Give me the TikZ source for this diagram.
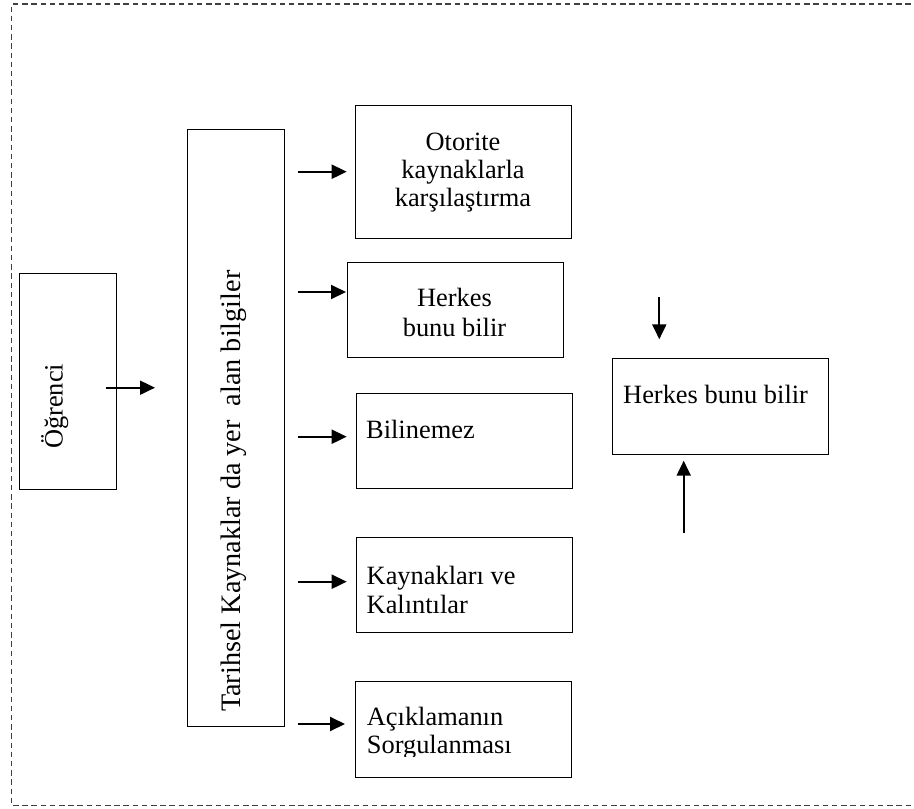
\documentclass[tikz,border=0pt]{standalone}
\usepackage{fontspec}
\setmainfont{Liberation Serif}
\usetikzlibrary{arrows.meta,calc}
\definecolor{framegray}{HTML}{404040}
\begin{document}
\begin{tikzpicture}[x=1pt,y=-1pt,
  box/.style={draw=black, line width=1.1pt, inner sep=0pt, anchor=north west},
  flow/.style={-{Triangle[length=15pt,width=14pt]}, line width=2pt},
  lbl/.style={font=\fontsize{26.4}{28.5}\selectfont, inner sep=0pt},
  mid/.style={lbl, anchor=base},
  left/.style={lbl, anchor=base west},
  vert/.style={lbl, anchor=base west, rotate=90}]
\useasboundingbox (0,0) rectangle (914,809);

% outer dashed frame (its right side lies beyond the page)
\draw[framegray, line width=1.2pt, dash pattern=on 5.5pt off 3.7pt]
  (920,4) -- (11.7,4) -- (11.7,805.5) -- (920,805.5);

% boxes
\node[box, minimum width=96.7pt, minimum height=216.3pt] (ogr) at (19,272.7) {};
\node[box, minimum width=96.7pt, minimum height=597pt] (tar) at (187,129) {};
\node[box, minimum width=216pt, minimum height=133.3pt] (oto) at (355,105) {};
\node[box, minimum width=216pt, minimum height=94.4pt] (her) at (347.3,262.3) {};
\node[box, minimum width=215.7pt, minimum height=95pt] (bil) at (356,393.3) {};
\node[box, minimum width=215.7pt, minimum height=95pt] (kay) at (356,536.7) {};
\node[box, minimum width=215.7pt, minimum height=95.7pt] (ack) at (355.3,681) {};
\node[box, minimum width=216pt, minimum height=96pt] (hbb) at (611.7,358.3) {};

% vertical labels
\node[vert] (tOgr) at (62.5,449) {Öğrenci};
\node[vert, font=\fontsize{28.2}{30}\selectfont]
  (tTar) at (240,712) {Tarihsel Kaynaklar da yer\ \ alan bilgiler};

% box labels
\node[mid] (tOto1) at (463,150) {Otorite};
\node[mid] (tOto2) at (463,178) {kaynaklarla};
\node[mid] (tOto3) at (463,206.7) {karşılaştırma};
\node[mid] (tHer1) at (454.5,306.7) {Herkes};
\node[mid] (tHer2) at (454.5,336.7) {bunu bilir};
\node[left] (tBil) at (366,438.3) {Bilinemez};
\node[left] (tKay1) at (366.5,584.3) {Kaynakları ve};
\node[left] (tKay2) at (366.5,613.3) {Kalıntılar};
\node[left] (tAck1) at (366.7,725) {Açıklamanın};
\begin{scope}
  \clip (355.3,681) rectangle (571,756);
  \node[left] (tAck2) at (366.7,753) {Sorgulanması};
\end{scope}
\node[left] (tHbb) at (623,403.3) {Herkes bunu bilir};

% arrow end points
\coordinate (a0s) at (106,387.7);   \coordinate (a0e) at (155,387.7);
\coordinate (a1s) at (298,171.7);   \coordinate (a1e) at (346.7,171.7);
\coordinate (a2s) at (298,292);     \coordinate (a2e) at (346,292);
\coordinate (a3s) at (298.3,436.7); \coordinate (a3e) at (346.7,436.7);
\coordinate (a4s) at (298,581.7);   \coordinate (a4e) at (346.7,581.7);
\coordinate (a5s) at (298.3,724);   \coordinate (a5e) at (345,724);
\coordinate (ups) at (683.7,533);   \coordinate (upe) at (683.7,460.7);
\coordinate (dns) at (659.3,297);   \coordinate (dne) at (659.3,339.3);

% arrows
\draw[flow] (a0s) -- (a0e);
\draw[flow] (a1s) -- (a1e);
\draw[flow] (a2s) -- (a2e);
\draw[flow] (a3s) -- (a3e);
\draw[flow] (a4s) -- (a4e);
\draw[flow] (a5s) -- (a5e);
\draw[flow] (ups) -- (upe);
\draw[flow] (dns) -- (dne);
\end{tikzpicture}
\end{document}
